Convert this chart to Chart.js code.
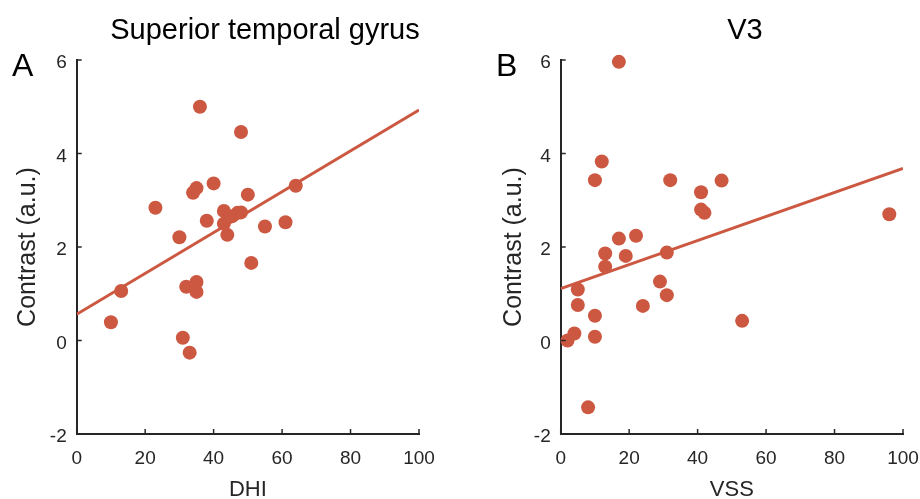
<!DOCTYPE html>
<html>
<head>
<meta charset="utf-8">
<script src="https://cdn.jsdelivr.net/npm/chart.js@4.4.1/dist/chart.umd.min.js"></script>
<style>
  html, body { margin: 0; padding: 0; background: #fff; }
  #wrap { position: relative; width: 920px; height: 499px; overflow: hidden; }
  .cv { position: absolute; top: 0; }
</style>
</head>
<body>
<div id="wrap">
  <canvas id="chartA" class="cv" style="left:0px"></canvas>
  <canvas id="chartB" class="cv" style="left:440px"></canvas>
</div>
<script>
// ---- Data ----
const titleA = "Superior temporal gyrus";
const titleB = "V3";
const xLabelA = "DHI";
const xLabelB = "VSS";
const yLabel = "Contrast (a.u.)";

const dhiA      = [10, 13, 23, 30, 31, 33, 32, 35, 35, 34, 35, 36, 40, 38, 43, 43, 44, 45.5, 47, 48, 48, 50, 51, 55, 61, 64];
const contrastA = [0.39, 1.06, 2.84, 2.21, 0.06, -0.26, 1.15, 1.25, 1.04, 3.16, 3.26, 5.0, 3.36, 2.56, 2.77, 2.5, 2.26, 2.66, 2.73, 2.74, 4.46, 3.12, 1.66, 2.44, 2.53, 3.31];
const fitXA = [0, 100];
const fitYA = [0.56, 4.93];

const vssB      = [2, 4, 5, 5, 8, 10, 10, 10, 12, 13, 13, 17, 17, 19, 22, 24, 29, 31, 31, 32, 41, 41, 42, 47, 53, 96];
const contrastB = [0.0, 0.15, 0.76, 1.09, -1.43, 0.53, 0.08, 3.43, 3.83, 1.86, 1.58, 5.96, 2.18, 1.81, 2.24, 0.74, 1.26, 0.97, 1.88, 3.43, 3.17, 2.8, 2.73, 3.42, 0.42, 2.7];
const fitXB = [0, 100];
const fitYB = [1.11, 3.68];

const xTicks = [0, 20, 40, 60, 80, 100];
const yTicks = [-2, 0, 2, 4, 6];

// ---- Styling ----
const FONT = "'Liberation Sans', Arial, Helvetica, sans-serif";
const MARK = "#CC5841";
const AXIS = "#262626";

function pts(xs, ys) { return xs.map((x, i) => ({ x: x, y: ys[i] })); }

// plugin: inward ticks + panel letter + title
const decor = {
  id: 'decor',
  afterDraw(chart) {
    const o = chart.options.plugins.decor;
    const ctx = chart.ctx;
    const xs = chart.scales.x, ys = chart.scales.y;
    const ca = chart.chartArea;
    ctx.save();
    ctx.strokeStyle = AXIS;
    ctx.lineWidth = 1.5;
    xTicks.forEach(v => {
      const px = xs.getPixelForValue(v);
      ctx.beginPath(); ctx.moveTo(px, ca.bottom); ctx.lineTo(px, ca.bottom - 5); ctx.stroke();
    });
    yTicks.forEach(v => {
      const py = ys.getPixelForValue(v);
      ctx.beginPath(); ctx.moveTo(ca.left, py); ctx.lineTo(ca.left + 5, py); ctx.stroke();
    });
    ctx.fillStyle = '#000';
    ctx.textBaseline = 'alphabetic';
    ctx.textAlign = 'left';
    ctx.font = "32px " + FONT;
    ctx.fillText(o.letter, o.letterX, 76);
    ctx.textAlign = 'center';
    ctx.font = "29px " + FONT;
    ctx.fillText(o.title, o.titleX, 39);
    ctx.restore();
  }
};

function makeChart(id, canvasW, xs, ys, fx, fy, xLabel, areaLeft, areaRight, yTitlePad, letter, letterX, title, titleX) {
  const cv = document.getElementById(id);
  cv.width = canvasW; cv.height = 499;
  cv.style.width = canvasW + 'px'; cv.style.height = '499px';
  return new Chart(cv, {
    type: 'scatter',
    data: {
      datasets: [
        {
          type: 'line',
          data: pts(fx, fy),
          borderColor: MARK,
          borderWidth: 3,
          pointRadius: 0,
          fill: false,
          order: 2
        },
        {
          type: 'scatter',
          data: pts(xs, ys),
          backgroundColor: MARK,
          borderWidth: 0,
          pointRadius: 7,
          clip: false,
          order: 1
        }
      ]
    },
    options: {
      responsive: false,
      animation: false,
      events: [],
      layout: { padding: { left: 0, top: 60, right: canvasW - areaRight, bottom: 0 } },
      plugins: {
        legend: { display: false },
        tooltip: { enabled: false },
        title: { display: false },
        decor: { letter: letter, letterX: letterX, title: title, titleX: titleX }
      },
      scales: {
        x: {
          type: 'linear',
          min: 0, max: 100,
          afterFit(s) { s.height = 65; },
          afterBuildTicks(s) { s.ticks = xTicks.map(v => ({ value: v })); },
          grid: { display: false, drawTicks: false },
          border: { display: true, color: AXIS, width: 2 },
          ticks: { color: AXIS, font: { family: FONT, size: 19 }, padding: 13, maxRotation: 0 },
          title: { display: true, text: xLabel, color: AXIS, font: { family: FONT, size: 22, lineHeight: 0.8 }, padding: 0 }
        },
        y: {
          type: 'linear',
          min: -2, max: 6,
          afterFit(s) { s.width = areaLeft; },
          afterBuildTicks(s) { s.ticks = yTicks.map(v => ({ value: v })); },
          grid: { display: false, drawTicks: false },
          border: { display: true, color: AXIS, width: 2 },
          ticks: { color: AXIS, font: { family: FONT, size: 19 }, padding: 10, labelOffset: 3 },
          title: { display: true, text: yLabel, color: AXIS, font: { family: FONT, size: 25, lineHeight: 1.2 }, padding: { top: yTitlePad, bottom: 0 } }
        }
      }
    },
    plugins: [decor]
  });
}

makeChart('chartA', 460, dhiA, contrastA, fitXA, fitYA, xLabelA, 76.7, 419, 13, 'A', 12, titleA, 265);
makeChart('chartB', 500, vssB, contrastB, fitXB, fitYB, xLabelB, 120.7, 463, 59.5, 'B', 56, titleB, 305);
</script>
</body>
</html>
